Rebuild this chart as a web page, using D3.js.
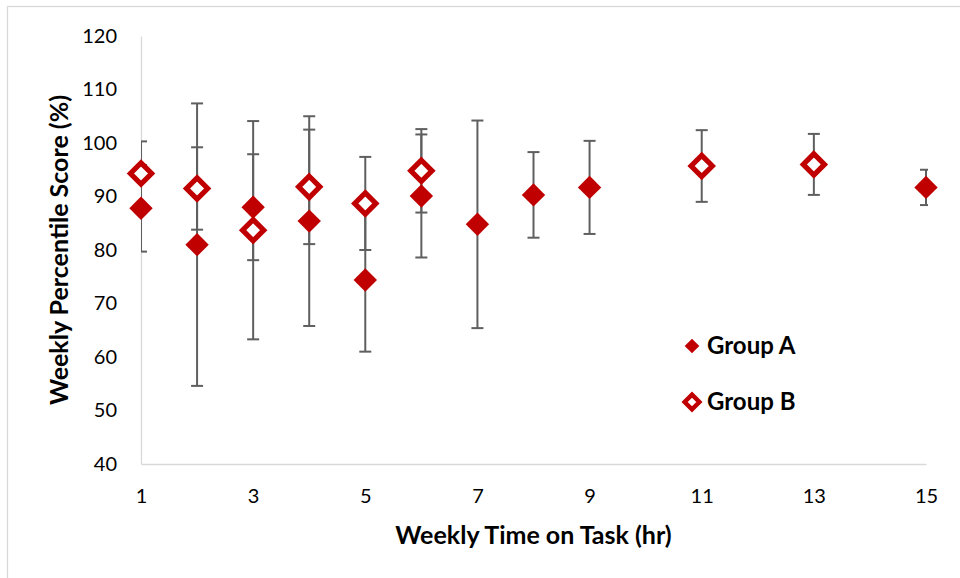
<!DOCTYPE html>
<html>
<head>
<meta charset="utf-8">
<script src="https://cdn.jsdelivr.net/npm/d3@7"></script>
<style>
  body { margin: 0; background: #fff; }
  text { font-family: Lato, "Open Sans", sans-serif; }
</style>
</head>
<body>
<div id="my_dataviz_scatter"></div>
<script>
// data
var groupAHours = [1, 2, 3, 4, 5, 6, 7, 8, 9, 15]
var groupAScore = [87.8, 81.0, 88.0, 85.4, 74.4, 90.1, 84.8, 90.3, 91.7, 91.7]
var groupAError = [8.1, 26.4, 9.9, 19.6, 13.4, 11.5, 19.4, 8.0, 8.7, 3.3]

var groupBHours = [1, 2, 3, 4, 5, 6, 11, 13]
var groupBScore = [94.3, 91.5, 83.7, 91.8, 88.7, 94.8, 95.7, 96.0]
var groupBError = [6.0, 7.7, 20.4, 10.7, 8.7, 7.8, 6.7, 5.7]

var xTicks = [1, 3, 5, 7, 9, 11, 13, 15]
var yTicks = [40, 50, 60, 70, 80, 90, 100, 110, 120]
var seriesNames = ["Group A", "Group B"]

function generateScatter(){

  // set the dimensions and margins of the graph
  var width = 960
      height = 578
      margin = {top: 36, right: 34, bottom: 114, left: 141}

  var red = "#c00000"
  var grey = "#d9d9d9"

  // a diamond drawn as a square turned on its corner
  function diamond(r) {
    return "M0," + (-r) + "L" + r + ",0L0," + r + "L" + (-r) + ",0Z"
  }

  var svg = d3.select("#my_dataviz_scatter")
    .append("svg")
      .attr("width", width)
      .attr("height", height)

  // outer chart border
  svg.append("rect")
    .attr("x", 7.5)
    .attr("y", 6.5)
    .attr("width", width + 20)
    .attr("height", height + 20)
    .attr("fill", "none")
    .attr("stroke", grey)
    .attr("stroke-width", 1.3)

  var x = d3.scaleLinear()
    .domain([1, 15])
    .range([margin.left, width - margin.right])

  var y = d3.scaleLinear()
    .domain([40, 120])
    .range([height - margin.bottom, margin.top])

  // axes: no tick marks, light grey domain line
  svg.append("g")
    .attr("transform", "translate(0," + y(40) + ")")
    .call(d3.axisBottom(x).tickValues(xTicks).tickSize(0).tickPadding(25))
    .call(function(g){
      g.select(".domain").attr("stroke", grey).attr("stroke-width", 1.3)
      g.selectAll("text").attr("font-size", 20).attr("fill", "#000")
    })

  svg.append("g")
    .attr("transform", "translate(" + x(1) + ",0)")
    .call(d3.axisLeft(y).tickValues(yTicks).tickSize(0).tickPadding(24))
    .call(function(g){
      g.select(".domain").attr("stroke", grey).attr("stroke-width", 1.3)
      g.selectAll("text").attr("font-size", 20).attr("fill", "#000")
    })

  // axis titles
  svg.append("text")
    .attr("x", (x(1) + x(15)) / 2)
    .attr("y", 544)
    .attr("text-anchor", "middle")
    .attr("font-size", 25)
    .attr("font-weight", "bold")
    .text("Weekly Time on Task (hr)")

  svg.append("text")
    .attr("transform", "translate(68," + (y(40) + y(120)) / 2 + ") rotate(-90)")
    .attr("text-anchor", "middle")
    .attr("font-size", 25)
    .attr("font-weight", "bold")
    .text("Weekly Percentile Score (%)")

  var dataA = groupAHours.map(function(h, i){ return {hr: h, score: groupAScore[i], err: groupAError[i]} })
  var dataB = groupBHours.map(function(h, i){ return {hr: h, score: groupBScore[i], err: groupBError[i]} })
  var allData = dataA.concat(dataB)

  // error bars are clipped to the plot area
  svg.append("clipPath")
    .attr("id", "plotClip")
    .append("rect")
      .attr("x", x(1))
      .attr("y", 0)
      .attr("width", x(15) - x(1) + 2)
      .attr("height", height)

  var bars = svg.append("g")
    .attr("clip-path", "url(#plotClip)")
    .attr("stroke", "#5f5f5f")
    .attr("stroke-width", 2)
    .selectAll("g")
    .data(allData)
    .enter()
    .append("g")

  bars.append("line")
    .attr("x1", function(d){ return x(d.hr) })
    .attr("x2", function(d){ return x(d.hr) })
    .attr("y1", function(d){ return y(d.score + d.err) })
    .attr("y2", function(d){ return y(d.score - d.err) })

  bars.selectAll(".cap")
    .data(function(d){ return [d.score + d.err, d.score - d.err].map(function(v){ return {hr: d.hr, v: v} }) })
    .enter()
    .append("line")
      .attr("class", "cap")
      .attr("x1", function(d){ return x(d.hr) - 6 })
      .attr("x2", function(d){ return x(d.hr) + 6 })
      .attr("y1", function(d){ return y(d.v) })
      .attr("y2", function(d){ return y(d.v) })

  // Group A: filled diamonds
  svg.selectAll(".markA")
    .data(dataA)
    .enter()
    .append("path")
      .attr("class", "markA")
      .attr("d", diamond(11.7))
      .attr("transform", function(d){ return "translate(" + x(d.hr) + "," + y(d.score) + ")" })
      .attr("fill", red)

  // Group B: open diamonds
  svg.selectAll(".markB")
    .data(dataB)
    .enter()
    .append("path")
      .attr("class", "markB")
      .attr("d", diamond(10.6))
      .attr("transform", function(d){ return "translate(" + x(d.hr) + "," + y(d.score) + ")" })
      .attr("fill", "#fff")
      .attr("stroke", red)
      .attr("stroke-width", 5.2)
      .attr("stroke-linejoin", "miter")

  // legend
  var legend = svg.selectAll(".legend")
    .data(seriesNames)
    .enter()
    .append("g")
      .attr("class", "legend")
      .attr("transform", function(d, i){ return "translate(692," + (346 + i * 56) + ")" })

  legend.append("path")
    .attr("d", function(d, i){ return i == 0 ? diamond(7.3) : diamond(7.4) })
    .attr("fill", function(d, i){ return i == 0 ? red : "#fff" })
    .attr("stroke", function(d, i){ return i == 0 ? "none" : red })
    .attr("stroke-width", 4.4)

  legend.append("text")
    .attr("x", 15)
    .attr("y", 8)
    .attr("font-size", 24)
    .attr("font-weight", "bold")
    .text(function(d){ return d })
}

generateScatter();
</script>
</body>
</html>
